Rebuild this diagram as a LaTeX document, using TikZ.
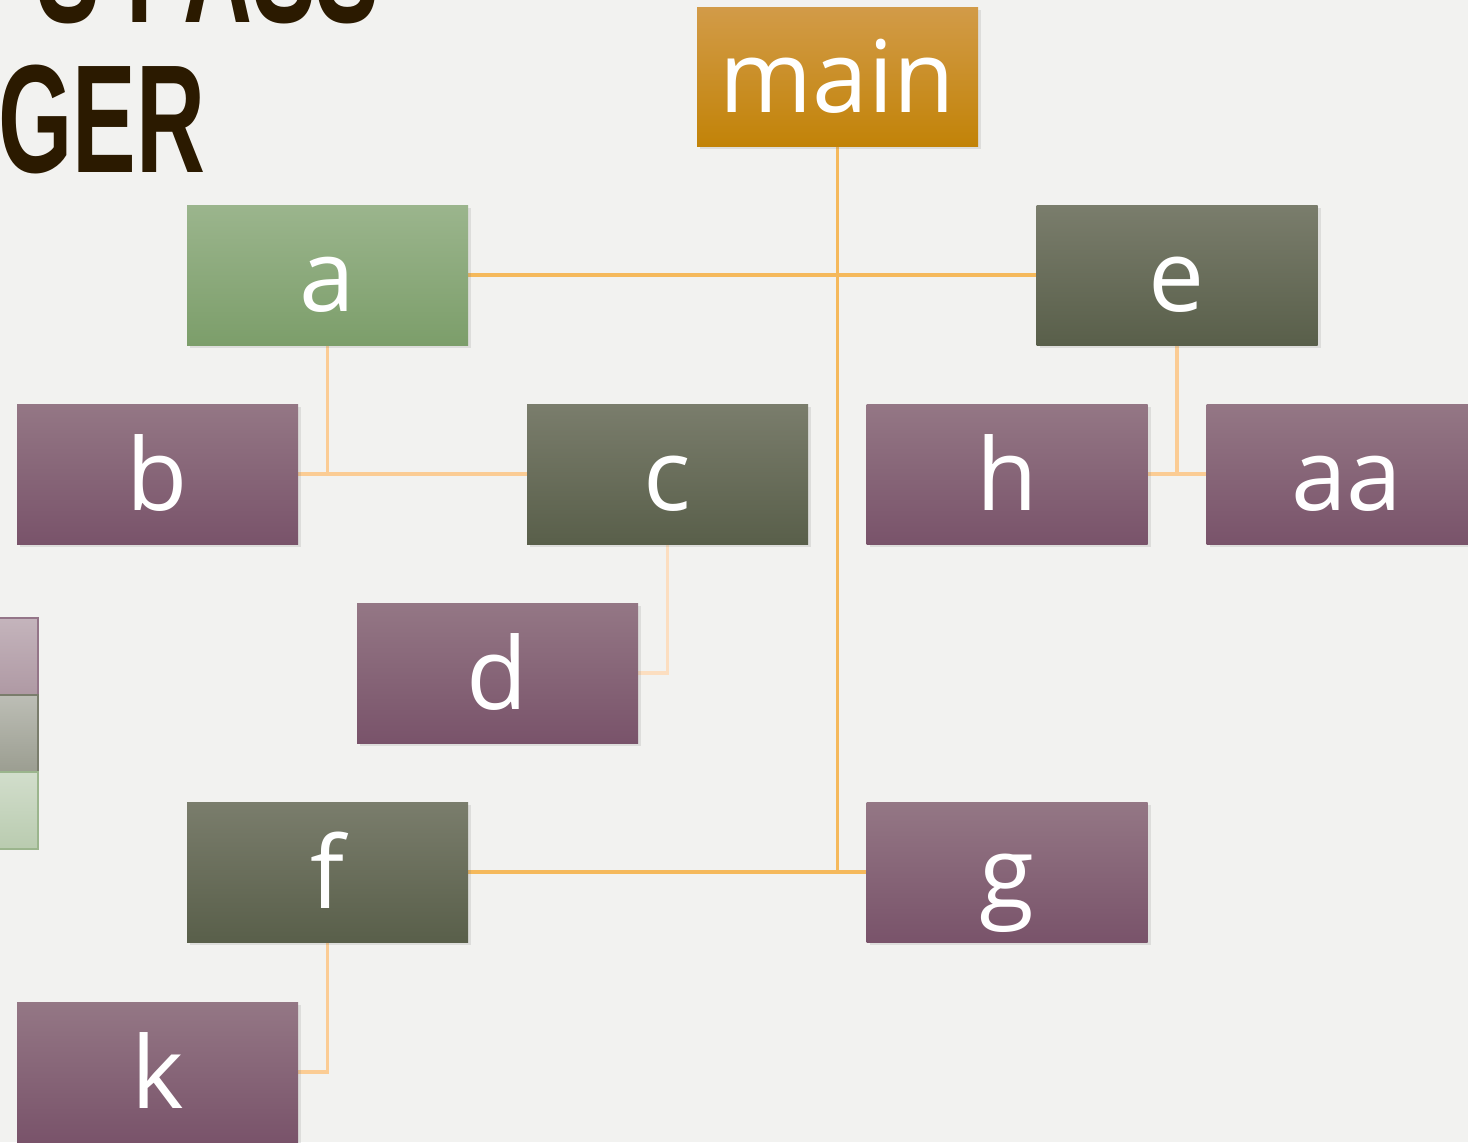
\documentclass[tikz,border=0pt]{standalone}
\usepackage{fontspec}
\setmainfont{Open Sans}
\newfontfamily\titlefont{Liberation Sans}
\usetikzlibrary{shadows,backgrounds}
\definecolor{bgc}{RGB}{242,242,240}
\definecolor{mainT}{RGB}{210,155,72}
\definecolor{mainB}{RGB}{194,131,8}
\definecolor{grnT}{RGB}{155,181,141}
\definecolor{grnB}{RGB}{124,158,106}
\definecolor{olvT}{RGB}{122,125,108}
\definecolor{olvB}{RGB}{89,95,74}
\definecolor{purT}{RGB}{148,119,133}
\definecolor{purB}{RGB}{121,83,106}
\definecolor{lnA}{RGB}{245,185,92}
\definecolor{lnB}{RGB}{251,204,148}
\definecolor{lnC}{RGB}{252,222,192}
\definecolor{titlec}{RGB}{43,26,0}
\tikzset{
  box/.style={rectangle, minimum width=140.5pt, minimum height=70pt, inner sep=0pt,
    text=white, font=\fontsize{50}{56}\selectfont, text height=36pt, text depth=0pt,
    drop shadow={opacity=0.18, shadow xshift=1.5pt, shadow yshift=-1.5pt}},
  mainbox/.style={box, top color=mainT, bottom color=mainB},
  grnbox/.style={box, top color=grnT, bottom color=grnB},
  olvbox/.style={box, top color=olvT, bottom color=olvB},
  purbox/.style={box, top color=purT, bottom color=purB},
  linkA/.style={draw=lnA, line width=1.6pt},
  linkB/.style={draw=lnB, line width=1.6pt},
  linkC/.style={draw=lnC, line width=1.6pt},
  titletext/.style={inner sep=0pt, text=titlec}
}
\begin{document}
\begin{tikzpicture}[x=0.5pt, y=-0.5pt]
\clip (0,0) rectangle (1468,1142);
\useasboundingbox (0,0) rectangle (1468,1142);
% title
\node[titletext, anchor=base east] (t1) at (380,22)
  {\scalebox{0.62}[1]{\titlefont\bfseries\fontsize{77}{80}\selectfont S PASS}};
\node[titletext, anchor=base west] (t2) at (-2,172)
  {\scalebox{0.62}[1]{\titlefont\bfseries\fontsize{77}{80}\selectfont GER}};
% legend squares
\shade[top color=purT!55!white, bottom color=purT!75!white, draw=purB!80!white, line width=0.8pt] (-40,618) rectangle (38,695);
\shade[top color=olvT!50!white, bottom color=olvT!75!white, draw=olvT, line width=0.8pt] (-40,695) rectangle (38,772);
\shade[top color=grnT!45!white, bottom color=grnT!70!white, draw=grnT, line width=0.8pt] (-40,772) rectangle (38,849);
% nodes
\node[mainbox, minimum height=69.5pt] (main) at (837.5,76.5) {main};
\node[grnbox] (a) at (327.5,275) {a};
\node[olvbox] (e) at (1177,275) {e};
\node[purbox] (b) at (157.5,474) {b};
\node[olvbox] (c) at (667.5,474) {c};
\node[purbox] (h) at (1007,474) {h};
\node[purbox] (aa) at (1347,474) {aa};
\node[purbox] (d) at (497.5,673) {d};
\node[olvbox] (f) at (327.5,872) {f};
\node[purbox] (g) at (1007,872) {g};
\node[purbox] (k) at (157.5,1072) {k};
\begin{scope}[on background layer]
\fill[bgc] (0,0) rectangle (1468,1142);
\draw[linkA] (main.south) |- (g.west);
\draw[linkA] (a.east) -- (a.east -| main.south);
\draw[linkA] (e.west) -- (e.west -| main.south);
\draw[linkA] (f.east) -- (f.east -| main.south);
\draw[linkB] (a.south) |- (b.east);
\draw[linkB] (a.south) |- (c.west);
\draw[linkB] (e.south) |- (h.east);
\draw[linkB] (e.south) |- (aa.west);
\draw[linkC] (c.south) |- (d.east);
\draw[linkB] (f.south) |- (k.east);
\end{scope}
\end{tikzpicture}
\end{document}
